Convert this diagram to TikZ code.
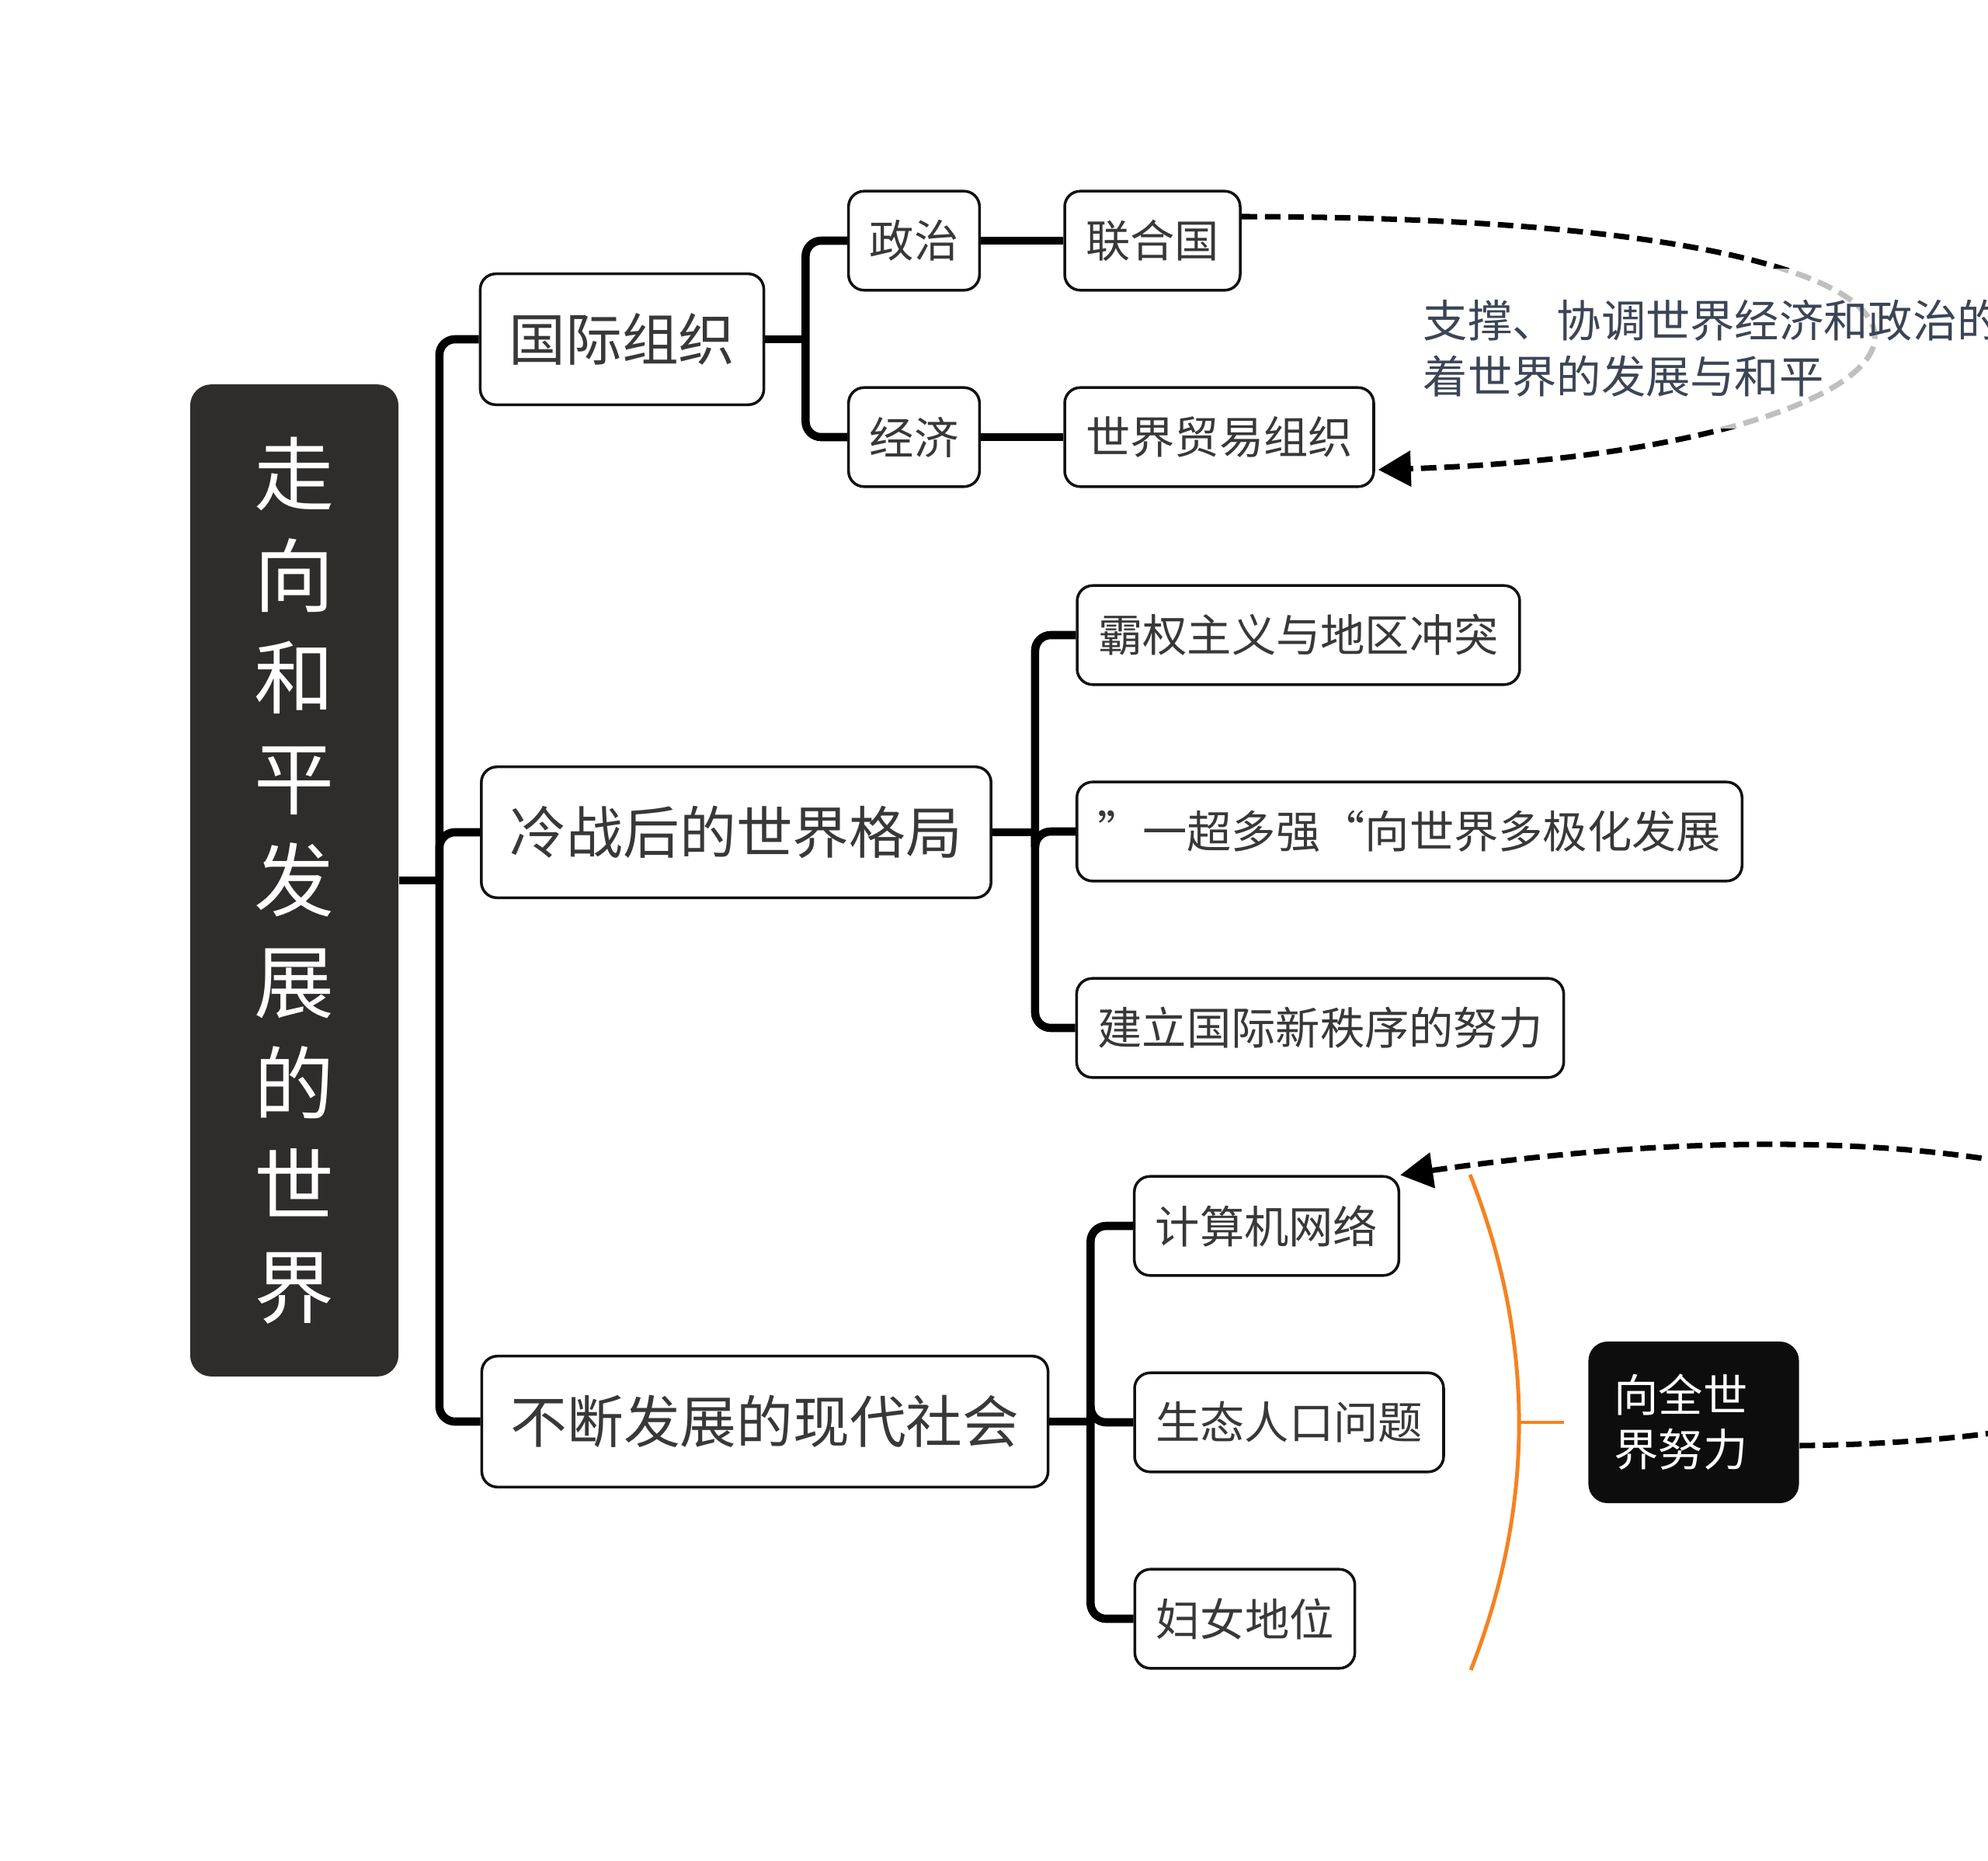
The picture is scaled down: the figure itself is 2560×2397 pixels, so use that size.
\documentclass[tikz,border=0pt]{standalone}
\usepackage{fontspec}
\setmainfont{Noto Sans CJK SC}
\usetikzlibrary{arrows.meta,calc}
\definecolor{ink}{HTML}{111111}
\definecolor{txt}{HTML}{383838}
\definecolor{rootbg}{HTML}{2F2C2C}
\definecolor{night}{HTML}{0D0D0D}
\definecolor{slate}{HTML}{3B4556}
\definecolor{tangerine}{HTML}{F58220}
\tikzset{
  box/.style={draw=ink,line width=1pt,rounded corners=5.7pt,fill=white,text=txt,
              inner ysep=0pt},
  topic/.style={box,font=\fontsize{20.7pt}{25pt}\selectfont,inner xsep=0.37cm,
                minimum height=1.685cm},
  leaf/.style={box,font=\fontsize{16.3pt}{20pt}\selectfont,inner xsep=0.27cm,
               minimum height=1.275cm},
  rootbox/.style={fill=rootbg,rounded corners=7.7pt,text=white,align=center,
                  minimum width=2.68cm,minimum height=12.77cm,inner sep=0pt,
                  font=\fontsize{29.3pt}{37.2pt}\selectfont},
  blackbox/.style={fill=night,rounded corners=7pt,text=white,align=left,
                   text width=2.05cm,inner xsep=0.33cm,minimum height=2.08cm,
                   font=\fontsize{16.3pt}{19.9pt}\selectfont},
  ar/.style={draw=black,line width=3pt},
  elbow/.style={ar,rounded corners=5.7pt},
  faint/.style={draw=black,line width=2pt,dash pattern=on 0.2cm off 0.1cm,
                -{Triangle[length=0.42cm,width=0.45cm]}},
  lab/.style={text=slate,align=left,fill=white,fill opacity=0.75,text opacity=1,
              inner sep=0.4cm,font=\fontsize{16.3pt}{20.5pt}\selectfont},
  orangearc/.style={draw=tangerine,line width=1.4pt},
}

\begin{document}
\begin{tikzpicture}[x=0.01cm,y=-0.01cm]
\useasboundingbox[fill=white] (0,0) rectangle (2560,2397);

% root and main branches
\node[rootbox] (root) at (379,1134) {走\\向\\和\\平\\发\\展\\的\\世\\界};
\node[topic] (org) at (801,437) {国际组织};
\node[topic] (cold) at (948,1072) {冷战后的世界格局};
\node[topic] (modern) at (985,1831) {不断发展的现代社会};

% leaves
\node[leaf] (pol) at (1177,310) {政治};
\node[leaf] (un) at (1484,310) {联合国};
\node[leaf] (eco) at (1177,563) {经济};
\node[leaf] (wto) at (1570,563) {世界贸易组织};
\node[leaf] (hegemony) at (1672,818) {霸权主义与地区冲突};
\node[leaf] (multi) at (1815,1071) {”一超多强“向世界多极化发展};
\node[leaf] (order) at (1700,1324) {建立国际新秩序的努力};
\node[leaf] (net) at (1631,1579) {计算机网络};
\node[leaf] (ecopop) at (1660,1832) {生态人口问题};
\node[leaf] (women) at (1603,2085) {妇女地位};
\node[blackbox] (effort) at (2181,1832) {向全世\\界努力};

% connectors
\coordinate (j0) at ($(root.east)+(52,0)$);
\draw[ar] (root.east) -- (j0);
\foreach \t in {org,cold,modern} \draw[elbow] (j0) |- (\t.west);

\coordinate (j1) at ($(org.east)+(52,0)$);
\draw[ar] (org.east) -- (j1);
\foreach \t in {pol,eco} \draw[elbow] (j1) |- (\t.west);
\draw[ar] (pol) -- (un);
\draw[ar] (eco) -- (wto);

\coordinate (j2) at ($(cold.east)+(55,0)$);
\draw[ar] (cold.east) -- (j2);
\foreach \t in {hegemony,multi,order} \draw[elbow] (j2) |- (\t.west);

\coordinate (j3) at ($(modern.east)+(53,0)$);
\draw[ar] (modern.east) -- (j3);
\foreach \t in {net,ecopop,women} \draw[elbow] (j3) |- (\t.west);

% dashed links
\draw[faint] ($(un.east)+(0,-31)$) .. controls (2750,280) and (2550,580) .. ($(wto.east)+(4,42)$);
\draw[faint] ($(effort.east)+(0,30)$) .. controls (3300,1850) and (3000,1340) .. (net.north east);

\node[lab,anchor=west] (note) at (1792,449) {支撑、协调世界经济和政治的\\着世界的发展与和平};

% summary arc
\coordinate (arctop) at (1893,1513);
\coordinate (arcbot) at (1894,2151);
\coordinate (arcmid) at (1956,1832);
\coordinate (tick) at ($(effort.west)+(-31,0)$);
\draw[orangearc] (arctop) .. controls (1977,1725) and (1977,1940) .. (arcbot);
\draw[orangearc] (arcmid) -- (tick);
\end{tikzpicture}
\end{document}
